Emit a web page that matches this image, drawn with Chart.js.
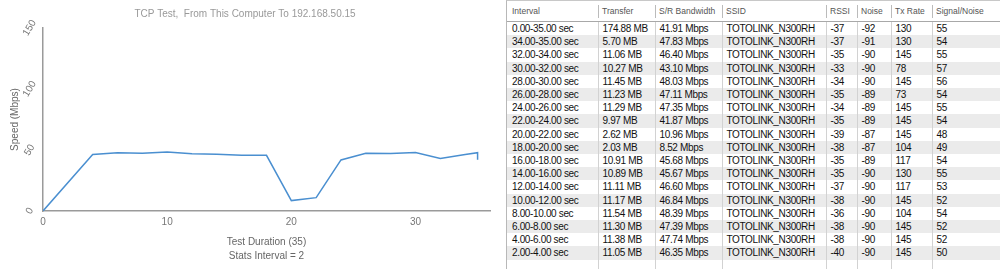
<!DOCTYPE html>
<html>
<head>
<meta charset="utf-8">
<script src="https://cdn.jsdelivr.net/npm/chart.js@4"></script>
<style>
  html, body { margin: 0; padding: 0; background: #fff; }
  body { width: 1000px; height: 269px; position: relative; overflow: hidden; font-family: "Liberation Sans", Arial, sans-serif; }
  #chartBox { position: absolute; left: 0; top: 0; width: 500px; height: 269px; }
  #tableBox { position: absolute; left: 506px; top: 0; width: 494px; height: 269px; border-left: 1px solid #b8b8b8; border-top: 1px solid #c8c8c8; box-sizing: border-box; }
  table { border-collapse: collapse; table-layout: fixed; width: 494px; }
  th { font-weight: normal; font-size: 8.5px; color: #555; text-align: left; height: 20px; padding: 0 0 0 4px; border-bottom: 1px solid #a8a8a8; position: relative; }
  th + th::before { content: ""; position: absolute; left: 0; top: 4px; height: 13px; border-left: 1px solid #bbb; }
  td { font-size: 10px; letter-spacing: -0.35px; color: #111; height: 13.2px; padding: 0 0 0 4px; white-space: nowrap; overflow: hidden; line-height: 13.2px; }
  td + td { border-left: 1px solid #d2d2d2; }
  tr.alt td { background: #ebebeb; }
  th:first-child, td:first-child { padding-left: 5px; }
  tr.filler td { height: 12px; }
</style>
</head>
<body>
<div id="chartBox"><canvas id="speedChart"></canvas></div>
<div id="tableBox"><table id="statsTable"></table></div>
<script>
// chart series (time in sec, speed in Mbps)
const chartTimes = [0, 4, 6, 8, 10, 12, 14, 16, 18, 20, 22, 24, 26, 28, 30, 32, 34, 35, 35];
const chartSpeeds = [0, 46.35, 47.74, 47.39, 48.39, 46.84, 46.60, 45.67, 45.68, 8.52, 10.96, 41.87, 47.35, 47.11, 48.03, 43.10, 46.40, 47.83, 41.91];
const yTicks = [0, 50, 100, 150];
const xTicks = [0, 10, 20, 30];

// table columns
const headers = ['Interval', 'Transfer', 'S/R Bandwidth', 'SSID', 'RSSI', 'Noise', 'Tx Rate', 'Signal/Noise'];
const intervals = ['0.00-35.00 sec', '34.00-35.00 sec', '32.00-34.00 sec', '30.00-32.00 sec', '28.00-30.00 sec', '26.00-28.00 sec',
  '24.00-26.00 sec', '22.00-24.00 sec', '20.00-22.00 sec', '18.00-20.00 sec', '16.00-18.00 sec', '14.00-16.00 sec',
  '12.00-14.00 sec', '10.00-12.00 sec', '8.00-10.00 sec', '6.00-8.00 sec', '4.00-6.00 sec', '2.00-4.00 sec'];
const transfers = ['174.88 MB', '5.70 MB', '11.06 MB', '10.27 MB', '11.45 MB', '11.23 MB', '11.29 MB', '9.97 MB', '2.62 MB',
  '2.03 MB', '10.91 MB', '10.89 MB', '11.11 MB', '11.17 MB', '11.54 MB', '11.30 MB', '11.38 MB', '11.05 MB'];
const bandwidths = ['41.91 Mbps', '47.83 Mbps', '46.40 Mbps', '43.10 Mbps', '48.03 Mbps', '47.11 Mbps', '47.35 Mbps', '41.87 Mbps',
  '10.96 Mbps', '8.52 Mbps', '45.68 Mbps', '45.67 Mbps', '46.60 Mbps', '46.84 Mbps', '48.39 Mbps', '47.39 Mbps', '47.74 Mbps', '46.35 Mbps'];
const ssid = 'TOTOLINK_N300RH';
const rssi = [-37, -37, -35, -33, -34, -35, -34, -35, -39, -38, -35, -35, -37, -38, -36, -38, -38, -40];
const noise = [-92, -91, -90, -90, -90, -89, -89, -89, -87, -87, -89, -90, -90, -90, -90, -90, -90, -90];
const txRates = [130, 130, 145, 78, 145, 73, 145, 145, 145, 104, 117, 130, 117, 145, 104, 145, 145, 145];
const snr = [55, 54, 55, 57, 56, 54, 55, 54, 48, 49, 54, 55, 53, 52, 54, 52, 52, 50];

const colWidths = [91, 57, 67, 104, 31, 34, 41, 69];

// build table
const table = document.getElementById('statsTable');
let html = '<colgroup>' + colWidths.map(w => `<col style="width:${w}px">`).join('') + '</colgroup>';
html += '<tr>' + headers.map(h => `<th>${h}</th>`).join('') + '</tr>';
intervals.forEach((iv, i) => {
  const cells = [iv, transfers[i], bandwidths[i], ssid, rssi[i], noise[i], txRates[i], snr[i]];
  html += `<tr class="${i % 2 ? 'alt' : ''}">` + cells.map(c => `<td>${c}</td>`).join('') + '</tr>';
});
html += '<tr class="filler">' + headers.map(() => '<td></td>').join('') + '</tr>';
table.innerHTML = html;

// chart
const points = chartTimes.map((t, i) => ({ x: t, y: chartSpeeds[i] }));
const axisGrey = '#9a9a9a';

new Chart(document.getElementById('speedChart'), {
  type: 'line',
  data: {
    datasets: [{
      data: points,
      borderColor: '#4a8fd0',
      borderWidth: 1.5,
      pointRadius: 0,
      tension: 0,
      fill: false
    }]
  },
  options: {
    responsive: true,
    maintainAspectRatio: false,
    animation: false,
    layout: { padding: { left: 0, right: 10, top: 0, bottom: 0 } },
    plugins: {
      legend: { display: false },
      tooltip: { enabled: false },
      title: {
        display: true,
        text: 'TCP Test,  From This Computer To 192.168.50.15',
        color: '#999',
        font: { family: 'Liberation Sans', size: 10, weight: 'normal' },
        padding: { top: 8, bottom: 8 }
      }
    },
    scales: {
      x: {
        type: 'linear',
        min: 0,
        max: 36,
        grid: { display: false, drawTicks: false },
        border: { color: axisGrey, width: 1.5 },
        ticks: {
          stepSize: 10,
          includeBounds: false,
          color: '#777',
          padding: 5,
          font: { family: 'Liberation Sans', size: 10 },
          callback: v => xTicks.includes(v) ? String(v) : ''
        },
        title: {
          display: true,
          text: ['Test Duration (35)', 'Stats Interval = 2'],
          color: '#666',
          font: { family: 'Liberation Sans', size: 10, lineHeight: 1.4 },
          padding: { top: 2, bottom: 6 }
        }
      },
      y: {
        min: 0,
        max: 150,
        grid: { display: false, drawTicks: false },
        border: { color: axisGrey, width: 1.5 },
        afterFit: s => { s.width = 43; },
        ticks: {
          stepSize: 50,
          minRotation: 60,
          maxRotation: 60,
          crossAlign: 'center',
          padding: 5,
          color: '#777',
          font: { family: 'Liberation Sans', size: 10 },
          callback: v => yTicks.includes(v) ? String(v) : ''
        },
        title: {
          display: true,
          text: 'Speed (Mbps)',
          color: '#666',
          font: { family: 'Liberation Sans', size: 10 },
          padding: { top: 9, bottom: 0 }
        }
      }
    }
  }
});
</script>
</body>
</html>
